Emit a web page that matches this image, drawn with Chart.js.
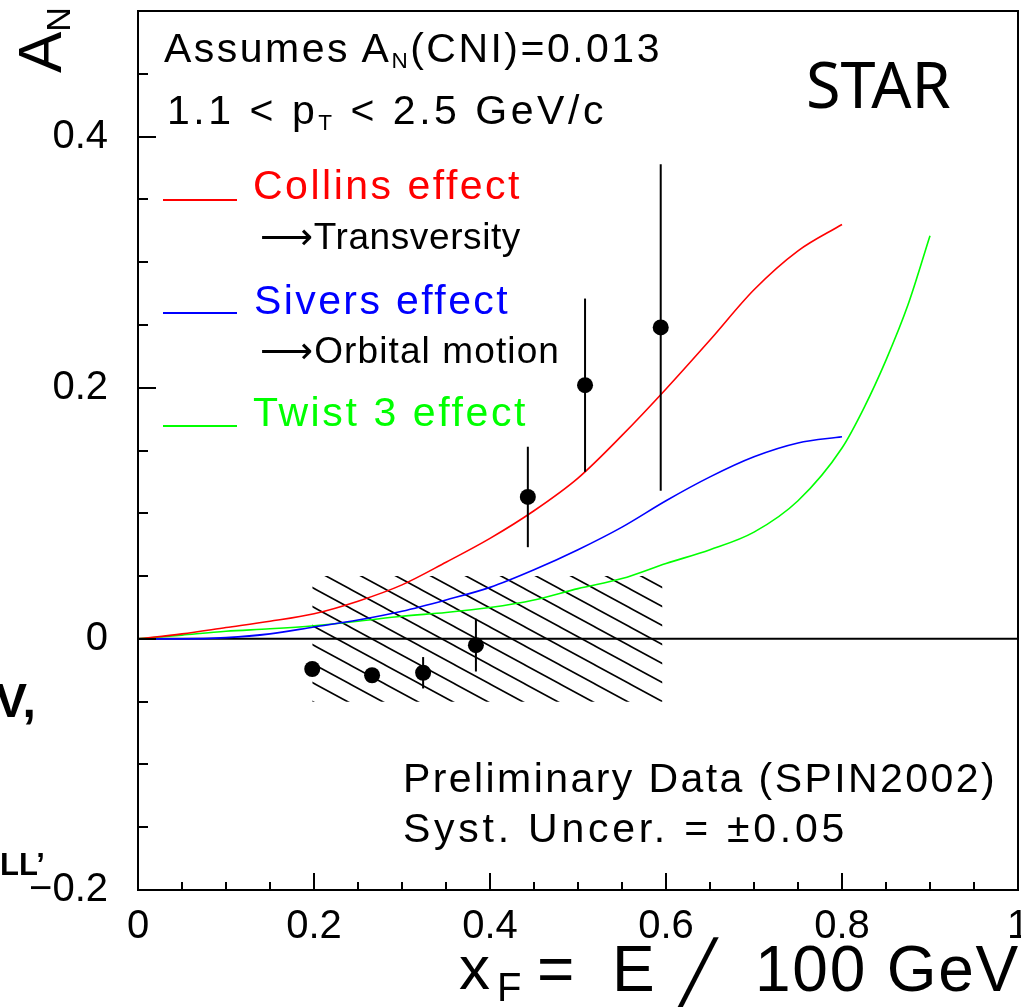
<!DOCTYPE html>
<html>
<head>
<meta charset="utf-8">
<script src="https://cdn.jsdelivr.net/npm/chart.js@4.4.1/dist/chart.umd.min.js"></script>
<style>
  html, body { margin:0; padding:0; background:#fff; overflow:hidden; }
  #wrap { position:relative; width:1060px; height:1007px; }
  #wrap canvas { position:absolute; left:0; top:0; }
  .t { position:absolute; white-space:nowrap; font-family:"Liberation Sans", Arial, sans-serif;
       font-size:41px; line-height:1; color:#000; }
  .t sub { font-size:0.55em; vertical-align:-0.25em; line-height:0; }
  .arr { font-family:"DejaVu Sans"; }
  .key { position:absolute; left:163px; width:74px; height:2px; }
  .bold { font-weight:bold; }
</style>
</head>
<body>
<div id="wrap">
  <canvas id="chart" width="1060" height="1007"></canvas>

  <div class="t fit" data-w="498" style="left:164px; top:28px">Assumes A<sub>N</sub>(CNI)=0.013</div>
  <div class="t fit" data-w="440" style="left:167px; top:90px">1.1 &lt; p<sub>T</sub> &lt; 2.5 GeV/c</div>
  <div class="t" style="left:806px; top:52px; font-family:'Noto Sans'; font-size:63px">STAR</div>

  <div class="key" style="top:199px; background:#ff0000"></div>
  <div class="t fit" data-w="269" style="left:253px; top:165px; color:#ff0000">Collins effect</div>
  <div class="t fit" data-w="261" style="left:260px; top:218px; font-size:37px"><span class="arr">&#x27F6;</span>Transversity</div>
  <div class="key" style="top:312px; background:#0000ff"></div>
  <div class="t fit" data-w="256" style="left:254px; top:280px; color:#0000ff">Sivers effect</div>
  <div class="t fit" data-w="300" style="left:260px; top:332px; font-size:37px"><span class="arr">&#x27F6;</span>Orbital motion</div>
  <div class="key" style="top:425px; background:#00ff00"></div>
  <div class="t fit" data-w="275" style="left:253px; top:392px; color:#00ff00">Twist 3 effect</div>

  <div class="t fit" data-w="594" style="left:403px; top:758px">Preliminary Data (SPIN2002)</div>
  <div class="t fit" data-w="445" style="left:403px; top:808px">Syst. Uncer. = &plusmn;0.05</div>

  <!-- axis titles -->
  <div class="t" style="left:9px; top:73px; font-size:62px; transform:rotate(-90deg); transform-origin:0 0">A<sub>N</sub></div>
  <div class="t" style="left:459px; top:937px; font-size:62px">x</div>
  <div class="t" style="left:497px; top:967px; font-size:40px">F</div>
  <div class="t" style="left:537px; top:937px; font-size:64px">=</div>
  <div class="t" style="left:612px; top:937px; font-size:64px">E</div>
  <div class="t" style="left:680px; top:942px; font-size:60px; font-family:'DejaVu Sans'">&#x2571;</div>
  <div class="t fit" data-w="265" style="left:755px; top:937px; font-size:64px">100 GeV</div>

  <!-- fragments of the slide next to the plot -->
  <div class="t bold" style="left:-5px; top:677px; font-size:48px">V,</div>
  <div class="t bold" style="left:0px; top:849px; font-size:31px">LL&rsquo;</div>
</div>

<script>
// ── data ──
const xfPoints = [0.198, 0.266, 0.324, 0.384, 0.443, 0.508, 0.594];
const anPoints = [-0.024, -0.029, -0.027, -0.005, 0.113, 0.202, 0.248];
const anErrors = [0.005, 0.005, 0.0125, 0.021, 0.040, 0.069, 0.130];

// systematic band (hatched)
const sysX    = [0.198, 0.596];
const sysLow  = -0.05;
const sysHigh = 0.05;

// theory curves
const curveX   = [0, 0.05, 0.1, 0.15, 0.2, 0.25, 0.3, 0.35, 0.4, 0.45, 0.5, 0.55, 0.6, 0.65, 0.7, 0.75, 0.8];
const collinsY = [0, 0.004, 0.009, 0.014, 0.020, 0.030, 0.043, 0.061, 0.080, 0.102, 0.128, 0.162, 0.199, 0.238, 0.278, 0.309, 0.330];
const siversY  = [0, 0, 0.001, 0.004, 0.0095, 0.015, 0.022, 0.031, 0.041, 0.055, 0.071, 0.089, 0.110, 0.129, 0.145, 0.156, 0.161];
const twistX   = [0, 0.05, 0.1, 0.15, 0.2, 0.25, 0.3, 0.35, 0.4, 0.45, 0.5, 0.55, 0.6, 0.65, 0.7, 0.75, 0.8, 0.825, 0.85, 0.875, 0.9];
const twistY   = [0, 0.003, 0.006, 0.008, 0.0105, 0.014, 0.018, 0.021, 0.025, 0.031, 0.040, 0.048, 0.060, 0.071, 0.085, 0.110, 0.152, 0.184, 0.222, 0.266, 0.321];

const zeroX = [0, 1];

// axes
const xTicks = [0, 0.2, 0.4, 0.6, 0.8, 1];
const yTicks = [-0.2, 0, 0.2, 0.4];
const X_MIN = 0, X_MAX = 1, Y_MIN = -0.2, Y_MAX = 0.5;

const FONT = '"Liberation Sans", Arial, sans-serif';

// fit texts to the measured widths of the original
document.querySelectorAll('.fit').forEach(el => {
  const n = el.textContent.length;
  const w = el.getBoundingClientRect().width;
  el.style.letterSpacing = ((+el.dataset.w - w) / n).toFixed(2) + 'px';
});

function makeHatch() {
  const W = 35, H = 19;
  const c = document.createElement('canvas');
  c.width = W; c.height = H;
  const g = c.getContext('2d');
  g.strokeStyle = '#000';
  g.lineWidth = 1.6;
  for (const k of [-1, 0, 1]) {
    g.beginPath();
    g.moveTo(-5, (H / W) * (-5 - k * W));
    g.lineTo(W + 5, (H / W) * (W + 5 - k * W));
    g.stroke();
  }
  return g.createPattern(c, 'repeat');
}

function fmt(v) {
  if (Math.abs(v) < 1e-9) return '0';
  const s = String(+Math.abs(v).toFixed(2));
  return v < 0 ? '\u2212' + s : s;
}

function steps(min, max, step) {
  const out = [];
  for (let v = min; v <= max + 1e-9; v += step) out.push(+v.toFixed(3));
  return out;
}

// frame, inside ticks and error bars (ROOT style)
const rootFrame = {
  id: 'rootFrame',
  afterDatasetsDraw(chart) {
    const { ctx, chartArea: a, scales: { x, y } } = chart;
    ctx.save();
    ctx.strokeStyle = '#000';
    ctx.lineWidth = 2;

    xfPoints.forEach((xv, i) => {
      const px = x.getPixelForValue(xv);
      ctx.beginPath();
      ctx.moveTo(px, y.getPixelForValue(anPoints[i] - anErrors[i]));
      ctx.lineTo(px, y.getPixelForValue(anPoints[i] + anErrors[i]));
      ctx.stroke();
    });

    ctx.strokeRect(a.left, a.top, a.right - a.left, a.bottom - a.top);

    ctx.beginPath();
    steps(Y_MIN, Y_MAX, 0.05).forEach(v => {
      const len = yTicks.some(t => Math.abs(t - v) < 1e-6) ? 18 : 10;
      const py = Math.round(y.getPixelForValue(v));
      ctx.moveTo(a.left, py);
      ctx.lineTo(a.left + len, py);
    });
    steps(X_MIN, X_MAX, 0.05).forEach(v => {
      const len = xTicks.some(t => Math.abs(t - v) < 1e-6) ? 17 : 8;
      const px = Math.round(x.getPixelForValue(v));
      ctx.moveTo(px, a.bottom);
      ctx.lineTo(px, a.bottom - len);
    });
    ctx.stroke();
    ctx.restore();
  }
};

const pts = (xs, ys) => xs.map((v, i) => ({ x: v, y: Array.isArray(ys) ? ys[i] : ys }));
const curve = (xs, ys, color) => ({
  data: pts(xs, ys), borderColor: color, borderWidth: 1.6, pointRadius: 0,
  cubicInterpolationMode: 'monotone', fill: false, order: 5
});

new Chart(document.getElementById('chart'), {
  type: 'line',
  data: {
    datasets: [
      { data: pts(sysX, sysLow), borderWidth: 0, pointRadius: 0, fill: false, order: 10 },
      { data: pts(sysX, sysHigh), borderWidth: 0, pointRadius: 0, fill: '-1',
        backgroundColor: makeHatch(), order: 10 },
      { data: pts(zeroX, 0), borderColor: '#000', borderWidth: 2, pointRadius: 0, fill: false, order: 8 },
      curve(curveX, collinsY, '#ff0000'),
      curve(curveX, siversY, '#0000ff'),
      curve(twistX, twistY, '#00ff00'),
      { data: pts(xfPoints, anPoints), showLine: false, pointRadius: 8, pointHoverRadius: 8,
        pointBackgroundColor: '#000', pointBorderWidth: 0, order: 1 }
    ]
  },
  options: {
    responsive: false,
    animation: false,
    devicePixelRatio: 1,
    layout: { padding: { top: 11, right: 42, bottom: 0, left: 0 } },
    plugins: { legend: { display: false }, tooltip: { enabled: false } },
    scales: {
      x: {
        type: 'linear', min: X_MIN, max: X_MAX,
        grid: { display: false }, border: { display: false },
        ticks: { color: '#000', font: { family: FONT, size: 40 }, padding: 5,
                 maxRotation: 0, autoSkip: false, callback: fmt },
        afterBuildTicks: s => { s.ticks = xTicks.map(v => ({ value: v })); },
        afterFit: s => { s.height = 117; s.paddingLeft = 0; s.paddingRight = 0; }
      },
      y: {
        type: 'linear', min: Y_MIN, max: Y_MAX,
        grid: { display: false }, border: { display: false },
        ticks: { color: '#000', font: { family: FONT, size: 40 }, padding: 22,
                 autoSkip: false, callback: fmt },
        afterBuildTicks: s => { s.ticks = yTicks.map(v => ({ value: v })); },
        afterFit: s => { s.width = 138; s.paddingTop = 0; s.paddingBottom = 0; }
      }
    }
  },
  plugins: [rootFrame]
});
</script>
</body>
</html>
